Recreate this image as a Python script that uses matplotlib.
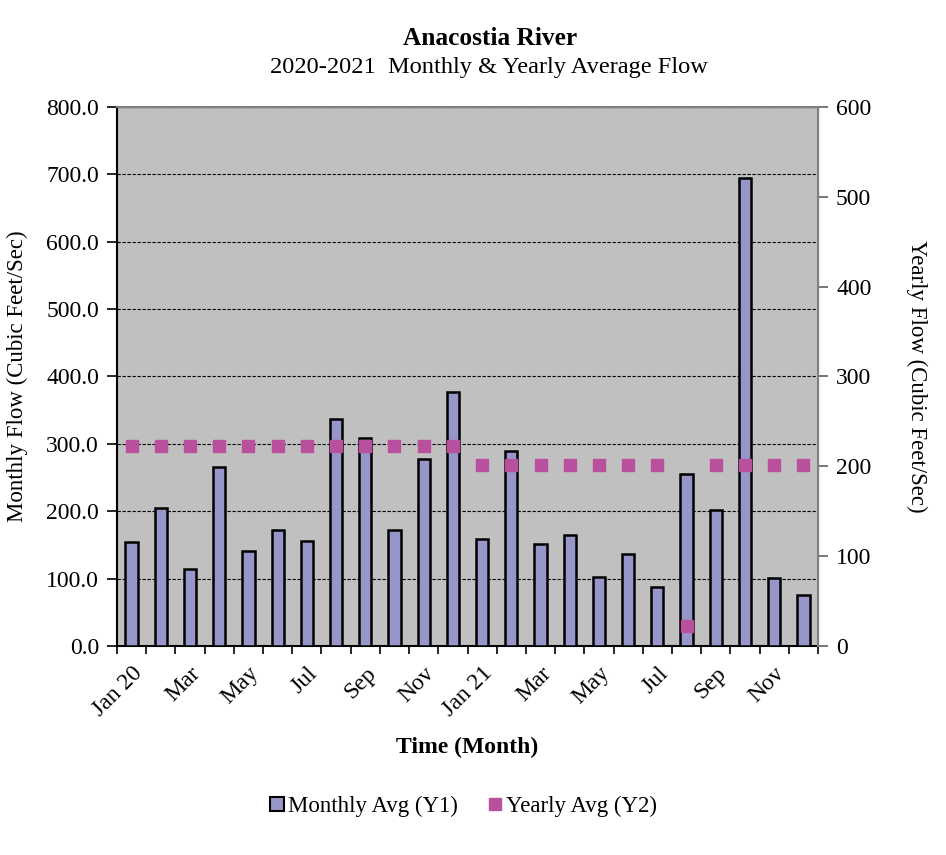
import numpy as np
import matplotlib.pyplot as plt
from matplotlib.lines import Line2D
from matplotlib.patches import Patch

plt.rcParams['font.family'] = ['Liberation Serif', 'DejaVu Serif']

# Monthly averages Jan 2020 - Dec 2021 (cfs)
months = ['Jan 20', 'Feb', 'Mar', 'Apr', 'May', 'Jun', 'Jul', 'Aug', 'Sep', 'Oct', 'Nov', 'Dec',
          'Jan 21', 'Feb', 'Mar', 'Apr', 'May', 'Jun', 'Jul', 'Aug', 'Sep', 'Oct', 'Nov', 'Dec']
monthly_avg = [154, 205, 115, 265, 141, 172, 156, 337, 308, 172, 278, 377,
               159, 290, 152, 165, 103, 137, 87, 256, 202, 695, 101, 75]
# yearly average plotted against the right axis
yearly_avg = [223, 223, 223, 223, 223, 223, 223, 223, 223, 223, 223, 223,
              202, 202, 202, 202, 202, 202, 202, 22, 202, 202, 202, 202]

fig = plt.figure(figsize=(9.46, 8.55), dpi=100)
ax = fig.add_axes([0.1237, 0.2444, 0.741, 0.6305])
ax2 = ax.twinx()

x = np.arange(len(months))
ax.set_facecolor('#C0C0C0')
ax.bar(x, monthly_avg, width=0.42, color='#9696C8', edgecolor='black', linewidth=1.8, zorder=3)
ax2.plot(x, yearly_avg, linestyle='none', marker='s', markersize=9,
         color='#B9509E', zorder=4)

ax.set_xlim(-0.5, len(months) - 0.5)
ax.set_ylim(0, 800)
ax2.set_ylim(0, 600)
ax.set_yticks(np.arange(0, 801, 100))
ax.set_yticklabels([f'{v:.1f}' for v in np.arange(0, 801, 100)])
ax2.set_yticks(np.arange(0, 601, 100))

# category boundaries for tick marks, labels every other month
ax.set_xticks(np.arange(-0.5, len(months)), minor=False)
ax.set_xticklabels([])
ax.set_xticks(x[::2], minor=True)
ax.set_xticklabels(months[::2], minor=True, rotation=45, ha='right', rotation_mode='anchor')
ax.tick_params(axis='x', which='major', length=6, width=1.2, direction='out')
ax.tick_params(axis='x', which='minor', length=0, pad=12, labelsize=17)
ax.tick_params(axis='y', length=7, width=1.2, labelsize=17, pad=6)
ax2.tick_params(axis='y', length=7, width=1.2, labelsize=17, pad=6, colors='black')

ax.yaxis.grid(True, linestyle=(0, (3, 1.5)), color='black', linewidth=0.8, zorder=1)
ax.set_axisbelow(True)

for sp in ['top', 'right']:
    ax2.spines[sp].set_color('#808080')
ax2.spines['right'].set_linewidth(1.5)
ax2.spines['top'].set_linewidth(1.5)
ax2.spines['left'].set_visible(False)
ax2.spines['bottom'].set_visible(False)
ax.spines['left'].set_linewidth(1.5)
ax.spines['bottom'].set_linewidth(1.5)
ax2.tick_params(axis='y', color='#606060')

ax.set_ylabel('Monthly Flow (Cubic Feet/Sec)', fontsize=16.5, labelpad=13)
ax2.set_ylabel('Yearly Flow (Cubic Feet/Sec)', fontsize=16.5, rotation=270, labelpad=40)
ax.set_xlabel('Time (Month)', fontsize=17, fontweight='bold', labelpad=12)

fig.text(0.518, 0.955, 'Anacostia River', ha='center', va='center', fontsize=18.3, fontweight='bold')
fig.text(0.517, 0.921, '2020-2021  Monthly & Yearly Average Flow', ha='center', va='center', fontsize=17.6)

handles = [Patch(facecolor='#9696C8', edgecolor='black', linewidth=1.5),
           Line2D([], [], linestyle='none', marker='s', markersize=9, color='#B9509E')]
fig.legend(handles, ['Monthly Avg (Y1)', 'Yearly Avg (Y2)'], loc='center',
           bbox_to_anchor=(0.49, 0.057), ncol=2, frameon=False, fontsize=16.5,
           handlelength=0.6, handleheight=0.6, handletextpad=0.2, columnspacing=1.3)

fig.savefig('out.png', dpi=100)
